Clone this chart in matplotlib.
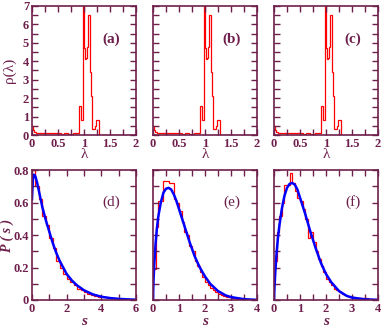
import matplotlib
matplotlib.use("Agg")
import matplotlib.pyplot as plt
from matplotlib.ticker import MultipleLocator

# ---- data ----
lam_edges = [0.00, 0.02, 0.04, 0.08, 0.15, 0.25, 0.35, 0.45, 0.55, 0.62, 0.70, 0.78,
             0.85, 0.90, 0.94, 0.975, 1.00, 1.02, 1.04, 1.06, 1.08, 1.115, 1.13,
             1.16, 1.20, 1.22, 1.24, 1.29, 2.00]
rho_vals = [0.50, 0.25, 0.15, 0.12, 0.10, 0.10, 0.09, 0.10, 0.08, 0.10, 0.08,
            0.10, 0.12, 1.60, 0.80, 7.00, 4.70, 4.10, 4.20, 4.80, 6.50, 3.40,
            2.10, 0.30, 0.35, 0.50, 0.80, 0.00]

s_edges_d = [i * 0.2 for i in range(31)]
hist_d = [0.80, 0.70, 0.62, 0.52, 0.46, 0.38, 0.32, 0.24, 0.20, 0.16, 0.13, 0.11,
          0.09, 0.07, 0.06, 0.05, 0.04, 0.03, 0.025, 0.02, 0.02, 0.018, 0.015,
          0.01, 0.006, 0.006, 0.004, 0.004, 0.003, 0.003]
s_edges_ef = [i * 0.1 for i in range(41)]
hist_e = [0.19, 0.45, 0.61, 0.61, 0.73, 0.73, 0.72, 0.72, 0.62, 0.60, 0.55, 0.48,
          0.42, 0.40, 0.33, 0.30, 0.24, 0.21, 0.17, 0.14, 0.11, 0.09, 0.075, 0.06,
          0.05, 0.04, 0.03, 0.025, 0.02, 0.016, 0.012, 0.01, 0.008, 0.006, 0.005,
          0.004, 0.003, 0.003, 0.002, 0.002]
hist_f = [0.24, 0.42, 0.52, 0.60, 0.71, 0.71, 0.78, 0.72, 0.67, 0.63, 0.61, 0.56,
          0.50, 0.38, 0.42, 0.36, 0.30, 0.25, 0.21, 0.17, 0.13, 0.11, 0.09, 0.07,
          0.06, 0.05, 0.04, 0.03, 0.025, 0.02, 0.018, 0.015, 0.015, 0.012, 0.01,
          0.01, 0.008, 0.006, 0.006, 0.005]

s_d = [0, 0.05, 0.1, 0.15, 0.2, 0.3, 0.4, 0.5, 0.6, 0.8, 1.0, 1.2, 1.4, 1.6, 1.8,
       2.0, 2.3, 2.6, 3.0, 3.5, 4.0, 4.5, 5.0, 5.5, 6.0]
fit_d = [0.62, 0.74, 0.77, 0.77, 0.76, 0.72, 0.67, 0.62, 0.57, 0.49, 0.42, 0.35,
         0.29, 0.24, 0.20, 0.16, 0.12, 0.09, 0.06, 0.035, 0.02, 0.012, 0.007,
         0.004, 0.002]
s_ef = [0, 0.02, 0.05, 0.1, 0.15, 0.2, 0.3, 0.4, 0.5, 0.6, 0.7, 0.8, 0.9, 1.0,
        1.2, 1.4, 1.6, 1.8, 2.0, 2.2, 2.5, 2.8, 3.0, 3.5, 4.0]
fit_e = [0, 0.12, 0.22, 0.35, 0.44, 0.51, 0.60, 0.66, 0.685, 0.69, 0.68, 0.65,
         0.61, 0.56, 0.46, 0.36, 0.27, 0.20, 0.145, 0.10, 0.055, 0.028, 0.018,
         0.005, 0.001]
fit_f = [0, 0.08, 0.17, 0.29, 0.38, 0.45, 0.56, 0.64, 0.69, 0.715, 0.72, 0.71,
         0.68, 0.63, 0.53, 0.42, 0.32, 0.23, 0.16, 0.11, 0.055, 0.025, 0.015,
         0.004, 0.001]

tags_top = ['(a)', '(b)', '(c)']
tags_bot = ['(d)', '(e)', '(f)']

frame = '#6e1f4c'
plt.rcParams['font.family'] = ['Liberation Serif', 'DejaVu Serif']
plt.rcParams['font.weight'] = 'bold'

fig = plt.figure(figsize=(3.82, 3.27), dpi=100)
lefts = [32 / 382, 153 / 382, 274 / 382]
w = 104 / 382


def style(ax, labels_y):
    ax.tick_params(which='both', direction='in', top=True, right=True,
                   length=4, width=1, color=frame, labelcolor=frame,
                   labelsize=9, pad=2)
    for sp in ax.spines.values():
        sp.set_color(frame)
        sp.set_linewidth(1.2)
    if not labels_y:
        ax.set_yticklabels([])


for i in range(3):
    ax = fig.add_axes([lefts[i], 1 - 135 / 327, w, 129 / 327])
    ax.stairs(rho_vals, lam_edges, baseline=None, color='red', lw=0.9)
    ax.set_xlim(0, 2)
    ax.set_ylim(0, 7)
    ax.xaxis.set_minor_locator(MultipleLocator(0.25))
    ax.yaxis.set_major_locator(MultipleLocator(1))
    ax.yaxis.set_minor_locator(MultipleLocator(0.5))
    ax.set_xticks([0, 0.5, 1, 1.5, 2], ['0', '0.5', '1', '1.5', '2'])
    style(ax, i == 0)
    ax.set_xlabel('λ', color=frame, fontsize=11, fontweight='normal', labelpad=-1)
    if i == 0:
        ax.set_ylabel('ρ(λ)', color=frame, fontsize=11, fontweight='normal')
        ax.yaxis.set_label_coords(-0.15, 0.5)
    ax.text(0.76, 0.74, tags_top[i], transform=ax.transAxes, ha='center',
            va='center', fontsize=11, color=frame, fontweight='bold')

hists = [hist_d, hist_e, hist_f]
edges = [s_edges_d, s_edges_ef, s_edges_ef]
sx = [s_d, s_ef, s_ef]
fits = [fit_d, fit_e, fit_f]
for i in range(3):
    ax = fig.add_axes([lefts[i], 1 - 300 / 327, w, 130 / 327])
    ax.stairs(hists[i], edges[i], baseline=None, color='red', lw=0.9)
    ax.plot(sx[i], fits[i], color='blue', lw=1.8)
    ax.set_ylim(0, 0.8)
    ax.yaxis.set_minor_locator(MultipleLocator(0.1))
    if i == 0:
        ax.set_xlim(0, 6)
        ax.xaxis.set_major_locator(MultipleLocator(2))
        ax.xaxis.set_minor_locator(MultipleLocator(1))
    else:
        ax.set_xlim(0, 4)
        ax.xaxis.set_major_locator(MultipleLocator(1))
        ax.xaxis.set_minor_locator(MultipleLocator(0.5))
    ax.set_yticks([0, 0.2, 0.4, 0.6, 0.8], ['0', '0.2', '0.4', '0.6', '0.8'])
    style(ax, i == 0)
    ax.set_xlabel('s', color=frame, fontsize=11, fontweight='bold',
                  fontstyle='italic', labelpad=0)
    if i == 0:
        ax.set_ylabel('P ( s )', color=frame, fontsize=10, fontweight='bold',
                      fontstyle='italic')
        ax.yaxis.set_label_coords(-0.17, 0.5)
    ax.text(0.76, 0.75, tags_bot[i], transform=ax.transAxes, ha='center',
            va='center', fontsize=11, color=frame, fontweight='normal')

fig.savefig('out.png', dpi=100)
